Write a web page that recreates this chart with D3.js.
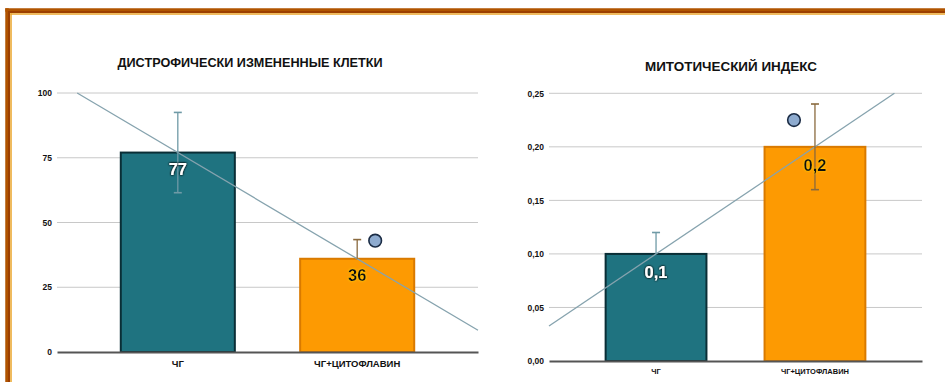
<!DOCTYPE html>
<html><head><meta charset="utf-8">
<script src="https://cdn.jsdelivr.net/npm/d3@7"></script>
<style>
html,body{margin:0;padding:0;background:#fff;}
svg{display:block;font-family:"Liberation Sans",Arial,sans-serif;}
</style></head>
<body>
<svg id="chart" width="945" height="382"></svg>
<script>
// ---- data ----
const categories = ["ЧГ", "ЧГ+ЦИТОФЛАВИН"];

const leftTitle = "ДИСТРОФИЧЕСКИ ИЗМЕНЕННЫЕ КЛЕТКИ";
const leftValues = [77, 36];
const leftErrLow = [61.5, 36];
const leftErrHigh = [92.5, 43.4];
const leftTicks = [0, 25, 50, 75, 100];
const leftTickLabels = ["0", "25", "50", "75", "100"];
const leftValueLabels = ["77", "36"];
const leftMarkerValue = 43;

const rightTitle = "МИТОТИЧЕСКИЙ ИНДЕКС";
const rightValues = [0.1, 0.2];
const rightErrLow = [0.1, 0.16];
const rightErrHigh = [0.12, 0.24];
const rightTicks = [0, 0.05, 0.10, 0.15, 0.20, 0.25];
const rightTickLabels = ["0,00", "0,05", "0,10", "0,15", "0,20", "0,25"];
const rightValueLabels = ["0,1", "0,2"];
const rightMarkerValue = 0.225;

const barColors = ["#1f7380", "#fd9a02"];
const barStrokes = ["#0a2e36", "#d97a00"];
const errColors = ["#6f9aa6", "#8a6a3e"];
const labelColors = ["#ffffff", "#111111"];

// ---- drawing ----
const svg = d3.select("#chart");
const defs = svg.append("defs");
const sh = defs.append("filter").attr("id", "darkShadow").attr("x", "-50%").attr("y", "-50%").attr("width", "200%").attr("height", "200%");
sh.append("feGaussianBlur").attr("in", "SourceAlpha").attr("stdDeviation", 1.2).attr("result", "b");
sh.append("feComponentTransfer").attr("in", "b").attr("result", "b2")
  .append("feFuncA").attr("type", "linear").attr("slope", 1.6);
const m1 = sh.append("feMerge"); m1.append("feMergeNode").attr("in", "b2"); m1.append("feMergeNode").attr("in", "SourceGraphic");
const gl = defs.append("filter").attr("id", "yellowGlow").attr("x", "-50%").attr("y", "-50%").attr("width", "200%").attr("height", "200%");
gl.append("feGaussianBlur").attr("in", "SourceAlpha").attr("stdDeviation", 1.1).attr("result", "b");
gl.append("feFlood").attr("flood-color", "#ffd800").attr("result", "f");
gl.append("feComposite").attr("in", "f").attr("in2", "b").attr("operator", "in").attr("result", "g");
const m2 = gl.append("feMerge"); m2.append("feMergeNode").attr("in", "g"); m2.append("feMergeNode").attr("in", "SourceGraphic");

// frame
const frame = svg.append("g");
[[10, 7, 3.5, "#b05400"], [12, 9, 2, "#9c3f00"], [14, 11, 1.5, "#eaa52a"]].forEach(([y, x, w, c]) => {
  frame.append("line").attr("x1", x - w / 2).attr("x2", 945).attr("y1", y).attr("y2", y).attr("stroke", c).attr("stroke-width", w);
  frame.append("line").attr("x1", x).attr("x2", x).attr("y1", y - w / 2).attr("y2", 382).attr("stroke", c).attr("stroke-width", w);
});

function drawChart(cfg) {
  const g = svg.append("g");
  const x = d3.scaleBand().domain(categories).range([cfg.left, cfg.right]).paddingInner(0.353).paddingOuter(0.35);
  const y = d3.scaleLinear().domain([0, cfg.ticks[cfg.ticks.length - 1]]).range([cfg.bottom, cfg.top]);

  // title
  g.append("text").attr("x", cfg.titleX).attr("y", cfg.titleY).attr("text-anchor", "middle")
    .attr("font-size", 12.5).attr("font-weight", "bold").attr("fill", "#111")
    .attr("textLength", cfg.titleW).attr("lengthAdjust", "spacingAndGlyphs").text(cfg.title);

  // grid + y axis labels
  const yAxis = d3.axisLeft(y).tickValues(cfg.ticks).tickSize(0).tickPadding(5)
    .tickFormat((d, i) => cfg.tickLabels[i]);
  const ya = g.append("g").attr("transform", `translate(${cfg.left},0)`).call(yAxis);
  ya.select(".domain").remove();
  ya.selectAll("text").attr("font-size", 8.5).attr("font-weight", "bold").attr("fill", "#111")
    .attr("font-family", "Liberation Sans, Arial, sans-serif");
  g.selectAll(".grid").data(cfg.ticks.slice(1)).join("line")
    .attr("x1", cfg.left).attr("x2", cfg.right).attr("y1", d => y(d)).attr("y2", d => y(d))
    .attr("stroke", "#c8c8c8").attr("stroke-width", 1);

  // bars
  g.selectAll(".bar").data(cfg.values).join("rect")
    .attr("x", (d, i) => x(categories[i]) + 1).attr("width", x.bandwidth() - 2)
    .attr("y", d => y(d)).attr("height", d => y(0) - y(d))
    .attr("fill", (d, i) => barColors[i]).attr("stroke", (d, i) => barStrokes[i]).attr("stroke-width", 2);

  // baseline axis
  const xa = g.append("g").attr("transform", `translate(0,${cfg.bottom})`)
    .call(d3.axisBottom(x).tickSize(0).tickPadding(cfg.catPad));
  xa.select(".domain").attr("stroke", "#555").attr("stroke-width", 2);
  xa.selectAll("text").attr("font-size", cfg.catFont).attr("font-weight", "bold").attr("fill", "#111")
    .attr("font-family", "Liberation Sans, Arial, sans-serif");

  // trend line through bar tops, extended to plot edges and clipped at top
  const cx = categories.map(c => x(c) + x.bandwidth() / 2);
  const slope = (cfg.values[1] - cfg.values[0]) / (cx[1] - cx[0]);
  const vmax = y.domain()[1];
  const vAt = px => cfg.values[0] + (px - cx[0]) * slope;
  let xs = cfg.left, xe = cfg.right;
  if (vAt(xs) > vmax) xs = cx[0] + (vmax - cfg.values[0]) / slope;
  if (vAt(xe) > vmax) xe = cx[0] + (vmax - cfg.values[0]) / slope;
  g.append("line").attr("x1", xs).attr("y1", y(vAt(xs))).attr("x2", xe).attr("y2", y(vAt(xe)))
    .attr("stroke", "#86a3ae").attr("stroke-width", 1.3);

  // error bars
  cfg.values.forEach((v, i) => {
    const px = cx[i];
    const c = errColors[i];
    const eg = g.append("g").attr("stroke", c).attr("stroke-width", 1.3);
    eg.append("line").attr("x1", px).attr("x2", px).attr("y1", y(cfg.errHigh[i])).attr("y2", y(cfg.errLow[i]));
    eg.append("line").attr("x1", px - 4).attr("x2", px + 4).attr("y1", y(cfg.errHigh[i])).attr("y2", y(cfg.errHigh[i])).attr("stroke-width", 1.6);
    if (cfg.errLow[i] < v)
      eg.append("line").attr("x1", px - 4).attr("x2", px + 4).attr("y1", y(cfg.errLow[i])).attr("y2", y(cfg.errLow[i])).attr("stroke-width", 1.6);
  });

  // value labels
  cfg.values.forEach((v, i) => {
    g.append("text").attr("x", cx[i]).attr("y", y(v) + cfg.labelOff).attr("text-anchor", "middle")
      .attr("font-size", 16.5).attr("font-weight", "bold").attr("fill", labelColors[i])
      .attr("filter", i === 0 ? "url(#darkShadow)" : "url(#yellowGlow)")
      .text(cfg.valueLabels[i]);
  });

  // significance marker
  g.append("circle").attr("cx", cx[1] + cfg.markerDx).attr("cy", y(cfg.marker)).attr("r", 6.3)
    .attr("fill", "#8eabcf").attr("stroke", "#1b2c45").attr("stroke-width", 1.6);
}

drawChart({
  title: leftTitle, titleX: 250, titleY: 67, titleW: 265,
  left: 57, right: 478, top: 93, bottom: 352,
  ticks: leftTicks, tickLabels: leftTickLabels, values: leftValues,
  errLow: leftErrLow, errHigh: leftErrHigh, valueLabels: leftValueLabels,
  marker: leftMarkerValue, markerDx: 18, labelOff: 22, catFont: 9.5, catPad: 8
});
drawChart({
  title: rightTitle, titleX: 731, titleY: 71, titleW: 172,
  left: 549, right: 922, top: 93.3, bottom: 361,
  ticks: rightTicks, tickLabels: rightTickLabels, values: rightValues,
  errLow: rightErrLow, errHigh: rightErrHigh, valueLabels: rightValueLabels,
  marker: rightMarkerValue, markerDx: -21, labelOff: 24, catFont: 7.5, catPad: 8
});
</script>
</body></html>
